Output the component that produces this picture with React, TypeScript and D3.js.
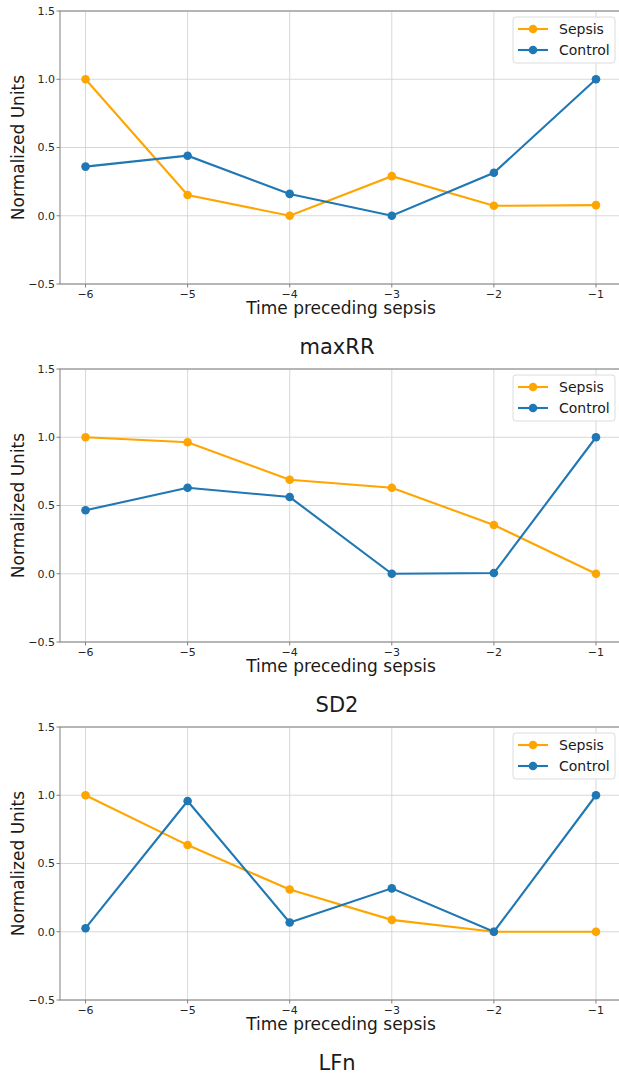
import React from "react";
import * as d3 from "d3";

// time steps before sepsis onset
const steps = [-6, -5, -4, -3, -2, -1];
const yTicks = [-0.5, 0.0, 0.5, 1.0, 1.5];

// panel titles (drawn under each panel, like the original figure)
const titles = ["maxRR", "SD2", "LFn"];

const sepsisMaxRR = [1.0, 0.152, 0.0, 0.29, 0.073, 0.078];
const controlMaxRR = [0.36, 0.44, 0.16, 0.0, 0.315, 1.0];

const sepsisSD2 = [1.0, 0.963, 0.689, 0.63, 0.357, 0.0];
const controlSD2 = [0.465, 0.63, 0.562, 0.0, 0.005, 1.0];

const sepsisLFn = [1.0, 0.635, 0.309, 0.087, 0.0, 0.0];
const controlLFn = [0.026, 0.958, 0.068, 0.318, 0.0, 1.0];

const sepsisSeries = [sepsisMaxRR, sepsisSD2, sepsisLFn];
const controlSeries = [controlMaxRR, controlSD2, controlLFn];

const SEPSIS = "#FFA500";
const CONTROL = "#1f77b4";
const FONT = "DejaVu Sans, sans-serif";

const W = 619, H = 1073;
const left = 60, right = 621.5;
const panelH = 273;
const panelStep = 358;
const firstTop = 11;

function fmt(v: number) {
  return v < 0 ? "\u2212" + Math.abs(v).toFixed(1) : v.toFixed(1);
}

function Panel({ idx }: { idx: number }) {
  const top = firstTop + idx * panelStep;
  const bottom = top + panelH;
  const x = d3.scaleLinear().domain([-6.25, -0.75]).range([left, right]);
  const y = d3.scaleLinear().domain([-0.5, 1.5]).range([bottom, top]);
  const line = d3.line<number>().x((d, i) => x(steps[i])).y((d) => y(d));
  const series = [
    { name: "Sepsis", color: SEPSIS, values: sepsisSeries[idx] },
    { name: "Control", color: CONTROL, values: controlSeries[idx] },
  ];
  const lgX = 513, lgY = top + 6;
  return (
    <g>
      {/* grid */}
      {steps.map((s) => (
        <line key={"gx" + s} x1={x(s)} x2={x(s)} y1={top} y2={bottom} stroke="#d4d4d4" strokeWidth={0.9} />
      ))}
      {yTicks.map((t) => (
        <line key={"gy" + t} x1={left} x2={right} y1={y(t)} y2={y(t)} stroke="#d4d4d4" strokeWidth={0.9} />
      ))}
      {/* spines */}
      <rect x={left} y={top} width={right - left} height={panelH} fill="none" stroke="#808080" strokeWidth={1} />
      {/* ticks */}
      {steps.map((s) => (
        <g key={"tx" + s}>
          <line x1={x(s)} x2={x(s)} y1={bottom} y2={bottom + 3.5} stroke="#808080" />
          <text x={x(s)} y={bottom + 14} textAnchor="middle" fontSize={11} fill="#262626" fontFamily={FONT}>
            {fmt(s).replace(".0", "")}
          </text>
        </g>
      ))}
      {yTicks.map((t) => (
        <g key={"ty" + t}>
          <line x1={left - 3.5} x2={left} y1={y(t)} y2={y(t)} stroke="#808080" />
          <text x={left - 5} y={y(t)} dy="0.35em" textAnchor="end" fontSize={11} fill="#262626" fontFamily={FONT}>
            {fmt(t)}
          </text>
        </g>
      ))}
      {/* series */}
      {series.map((s) => (
        <g key={s.name}>
          <path d={line(s.values) || ""} fill="none" stroke={s.color} strokeWidth={2.1} />
          {s.values.map((v, i) => (
            <circle key={i} cx={x(steps[i])} cy={y(v)} r={4.3} fill={s.color} />
          ))}
        </g>
      ))}
      {/* axis labels */}
      <text x={341} y={bottom + 30} textAnchor="middle" fontSize={17} fill="#1a1a1a" fontFamily={FONT}>
        Time preceding sepsis
      </text>
      <text transform={`translate(24,${(top + bottom) / 2}) rotate(-90)`} textAnchor="middle" fontSize={17} fill="#1a1a1a" fontFamily={FONT}>
        Normalized Units
      </text>
      <text x={337} y={bottom + 70} textAnchor="middle" fontSize={21} fill="#1a1a1a" fontFamily={FONT}>
        {titles[idx]}
      </text>
      {/* legend */}
      <rect x={lgX} y={lgY} width={102} height={46} rx={3} fill="white" fillOpacity={0.85} stroke="#dcdcdc" />
      {series.map((s, i) => (
        <g key={"lg" + s.name}>
          <line x1={lgX + 5} x2={lgX + 35} y1={lgY + 12 + i * 21} y2={lgY + 12 + i * 21} stroke={s.color} strokeWidth={2.1} />
          <circle cx={lgX + 20} cy={lgY + 12 + i * 21} r={4.3} fill={s.color} />
          <text x={lgX + 46} y={lgY + 12 + i * 21} dy="0.35em" fontSize={14} fill="#1a1a1a" fontFamily={FONT}>
            {s.name}
          </text>
        </g>
      ))}
    </g>
  );
}

export default function App() {
  return (
    <svg width={W} height={H} style={{ position: "absolute", left: 0, top: 0, background: "white" }}>
      {titles.map((t, i) => (
        <Panel key={t} idx={i} />
      ))}
    </svg>
  );
}
